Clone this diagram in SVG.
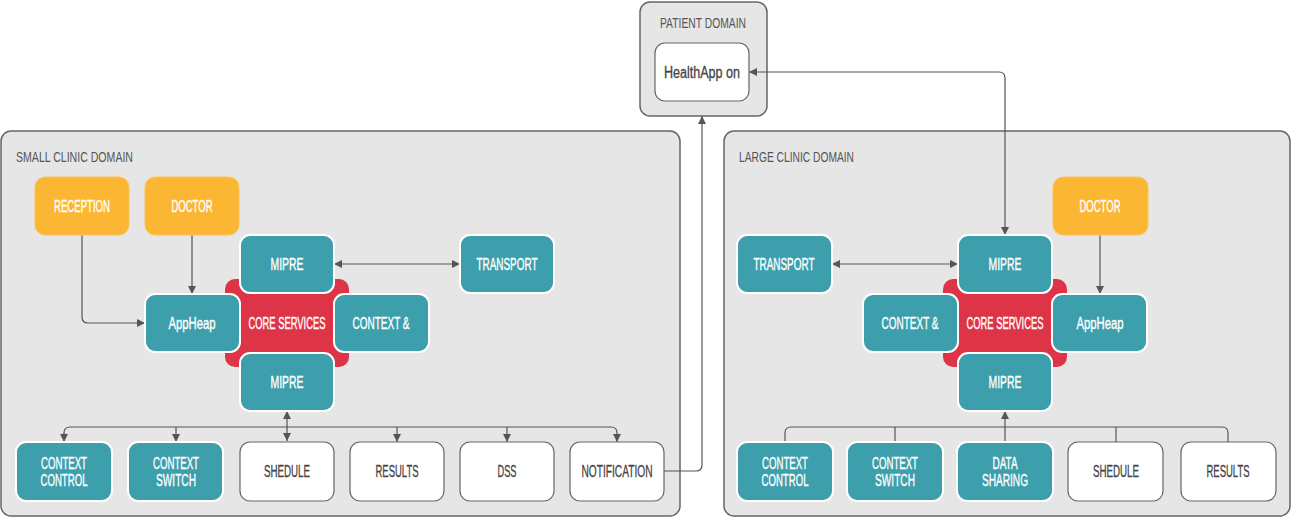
<svg xmlns="http://www.w3.org/2000/svg" width="1292" height="518" viewBox="0 0 1292 518">
<defs>
<marker id="ah" viewBox="0 0 10 10" refX="10" refY="5" markerWidth="8" markerHeight="8" markerUnits="userSpaceOnUse" orient="auto-start-reverse">
<path d="M0,0 L10,5 L0,10 z" fill="#555"/>
</marker>
<style>
.dom{fill:#e6e6e6;stroke:#666;stroke-width:1.5}
.title{font-family:"Liberation Sans",Arial,sans-serif;font-size:14.5px;fill:#555}
.teal{fill:#3e9fac;stroke:#fff;stroke-width:2}
.orange{fill:#fbb733;stroke:#fcc35a;stroke-width:1}
.white{fill:#fff;stroke:#666;stroke-width:1.2}
.red{fill:#de3448}
.lt{font-family:"Liberation Sans",Arial,sans-serif;font-size:16px;fill:#fff;stroke:#fff;stroke-width:0.35;text-anchor:middle;dominant-baseline:central}
.dt{font-family:"Liberation Sans",Arial,sans-serif;font-size:16px;fill:#444;stroke:#444;stroke-width:0.3;text-anchor:middle;dominant-baseline:central}
.c{fill:none;stroke:#555;stroke-width:1.2}
</style>
</defs>

<g id="patient-domain">
<rect class="dom" x="640" y="2" width="127" height="114" rx="10"/>
<text class="title" x="703" y="28" text-anchor="middle" textLength="86" lengthAdjust="spacingAndGlyphs">PATIENT DOMAIN</text>
</g>
<g id="healthapp">
<rect class="white" x="655" y="43" width="94" height="58" rx="10"/>
<text class="dt" x="702" y="72" textLength="76" lengthAdjust="spacingAndGlyphs">HealthApp on</text>
</g>

<g id="small-clinic-domain">
<rect class="dom" x="1" y="131" width="679" height="385" rx="10"/>
<text class="title" x="16" y="162" textLength="117" lengthAdjust="spacingAndGlyphs">SMALL CLINIC DOMAIN</text>
</g>
<g id="large-clinic-domain">
<rect class="dom" x="724" y="131" width="566" height="385" rx="10"/>
<text class="title" x="739" y="162" textLength="115" lengthAdjust="spacingAndGlyphs">LARGE CLINIC DOMAIN</text>
</g>

<g id="connectors">
<!-- small clinic -->
<path class="c" d="M82,235 V317 Q82,323 88,323 H145" marker-end="url(#ah)"/>
<path class="c" d="M192,235 V294" marker-end="url(#ah)"/>
<path class="c" d="M334,264 H460" marker-start="url(#ah)" marker-end="url(#ah)"/>
<path class="c" d="M287,411 V441" marker-start="url(#ah)" marker-end="url(#ah)"/>
<path class="c" d="M64,442 V433 Q64,427 70,427 H611 Q617,427 617,433 V442" marker-end="url(#ah)"/>
<path class="c" d="M64,433 V442" marker-end="url(#ah)"/>
<path class="c" d="M176,427 V442" marker-end="url(#ah)"/>
<path class="c" d="M397,427 V442" marker-end="url(#ah)"/>
<path class="c" d="M507,427 V442" marker-end="url(#ah)"/>
<path class="c" d="M664,471 H696 Q702,471 702,465 V116" marker-end="url(#ah)"/>
<!-- patient / large -->
<path class="c" d="M1005,235 V78 Q1005,72 999,72 H749" marker-start="url(#ah)" marker-end="url(#ah)"/>
<!-- large clinic -->
<path class="c" d="M832,264 H958" marker-start="url(#ah)" marker-end="url(#ah)"/>
<path class="c" d="M1100,235 V294" marker-end="url(#ah)"/>
<path class="c" d="M1005,442 V411" marker-end="url(#ah)"/>
<path class="c" d="M785,442 V433 Q785,427 791,427 H1222 Q1228,427 1228,433 V442"/>
<path class="c" d="M895,427 V442"/>
<path class="c" d="M1116,427 V442"/>
</g>

<!-- small clinic nodes -->
<g id="s-reception"><rect class="orange" x="35" y="177" width="94" height="58" rx="10"/><text class="lt" x="82" y="206" textLength="56" lengthAdjust="spacingAndGlyphs">RECEPTION</text></g>
<g id="s-doctor"><rect class="orange" x="145" y="177" width="94" height="58" rx="10"/><text class="lt" x="192" y="206" textLength="41" lengthAdjust="spacingAndGlyphs">DOCTOR</text></g>
<g id="s-core"><rect class="red" x="225" y="279" width="124" height="88" rx="10"/><text class="lt" x="287" y="323" textLength="77" lengthAdjust="spacingAndGlyphs">CORE SERVICES</text></g>
<g id="s-mipre-top"><rect class="teal" x="240" y="235" width="94" height="58" rx="10"/><text class="lt" x="287" y="264" textLength="33" lengthAdjust="spacingAndGlyphs">MIPRE</text></g>
<g id="s-appheap"><rect class="teal" x="145" y="294" width="95" height="58" rx="10"/><text class="lt" x="192" y="323" textLength="47" lengthAdjust="spacingAndGlyphs">AppHeap</text></g>
<g id="s-context"><rect class="teal" x="334" y="294" width="95" height="58" rx="10"/><text class="lt" x="381" y="323" textLength="57" lengthAdjust="spacingAndGlyphs">CONTEXT &amp;</text></g>
<g id="s-mipre-bottom"><rect class="teal" x="240" y="353" width="94" height="58" rx="10"/><text class="lt" x="287" y="382" textLength="33" lengthAdjust="spacingAndGlyphs">MIPRE</text></g>
<g id="s-transport"><rect class="teal" x="460" y="235" width="94" height="58" rx="10"/><text class="lt" x="507" y="264" textLength="61" lengthAdjust="spacingAndGlyphs">TRANSPORT</text></g>
<g id="s-context-control"><rect class="teal" x="16" y="442" width="96" height="59" rx="10"/><text class="lt" x="64" y="463" textLength="46" lengthAdjust="spacingAndGlyphs">CONTEXT</text><text class="lt" x="64" y="480" textLength="47" lengthAdjust="spacingAndGlyphs">CONTROL</text></g>
<g id="s-context-switch"><rect class="teal" x="128" y="442" width="95" height="59" rx="10"/><text class="lt" x="176" y="463" textLength="46" lengthAdjust="spacingAndGlyphs">CONTEXT</text><text class="lt" x="176" y="480" textLength="40" lengthAdjust="spacingAndGlyphs">SWITCH</text></g>
<g id="s-shedule"><rect class="white" x="240" y="442" width="94" height="59" rx="10"/><text class="dt" x="287" y="471" textLength="46" lengthAdjust="spacingAndGlyphs">SHEDULE</text></g>
<g id="s-results"><rect class="white" x="350" y="442" width="94" height="59" rx="10"/><text class="dt" x="397" y="471" textLength="43" lengthAdjust="spacingAndGlyphs">RESULTS</text></g>
<g id="s-dss"><rect class="white" x="460" y="442" width="94" height="59" rx="10"/><text class="dt" x="507" y="471" textLength="19" lengthAdjust="spacingAndGlyphs">DSS</text></g>
<g id="s-notification"><rect class="white" x="570" y="442" width="94" height="59" rx="10"/><text class="dt" x="617" y="471" textLength="71" lengthAdjust="spacingAndGlyphs">NOTIFICATION</text></g>

<!-- large clinic nodes -->
<g id="l-doctor"><rect class="orange" x="1053" y="177" width="95" height="58" rx="10"/><text class="lt" x="1100" y="206" textLength="41" lengthAdjust="spacingAndGlyphs">DOCTOR</text></g>
<g id="l-transport"><rect class="teal" x="737" y="235" width="95" height="58" rx="10"/><text class="lt" x="784" y="264" textLength="61" lengthAdjust="spacingAndGlyphs">TRANSPORT</text></g>
<g id="l-core"><rect class="red" x="943" y="279" width="124" height="88" rx="10"/><text class="lt" x="1005" y="323" textLength="77" lengthAdjust="spacingAndGlyphs">CORE SERVICES</text></g>
<g id="l-mipre-top"><rect class="teal" x="958" y="235" width="94" height="58" rx="10"/><text class="lt" x="1005" y="264" textLength="33" lengthAdjust="spacingAndGlyphs">MIPRE</text></g>
<g id="l-context"><rect class="teal" x="863" y="294" width="95" height="58" rx="10"/><text class="lt" x="910" y="323" textLength="57" lengthAdjust="spacingAndGlyphs">CONTEXT &amp;</text></g>
<g id="l-appheap"><rect class="teal" x="1052" y="294" width="95" height="58" rx="10"/><text class="lt" x="1100" y="323" textLength="47" lengthAdjust="spacingAndGlyphs">AppHeap</text></g>
<g id="l-mipre-bottom"><rect class="teal" x="958" y="353" width="94" height="58" rx="10"/><text class="lt" x="1005" y="382" textLength="33" lengthAdjust="spacingAndGlyphs">MIPRE</text></g>
<g id="l-context-control"><rect class="teal" x="737" y="442" width="96" height="59" rx="10"/><text class="lt" x="785" y="463" textLength="46" lengthAdjust="spacingAndGlyphs">CONTEXT</text><text class="lt" x="785" y="480" textLength="47" lengthAdjust="spacingAndGlyphs">CONTROL</text></g>
<g id="l-context-switch"><rect class="teal" x="847" y="442" width="96" height="59" rx="10"/><text class="lt" x="895" y="463" textLength="46" lengthAdjust="spacingAndGlyphs">CONTEXT</text><text class="lt" x="895" y="480" textLength="40" lengthAdjust="spacingAndGlyphs">SWITCH</text></g>
<g id="l-data-sharing"><rect class="teal" x="957" y="442" width="96" height="59" rx="10"/><text class="lt" x="1005" y="463" textLength="25" lengthAdjust="spacingAndGlyphs">DATA</text><text class="lt" x="1005" y="480" textLength="46" lengthAdjust="spacingAndGlyphs">SHARING</text></g>
<g id="l-shedule"><rect class="white" x="1068" y="442" width="95" height="59" rx="10"/><text class="dt" x="1116" y="471" textLength="46" lengthAdjust="spacingAndGlyphs">SHEDULE</text></g>
<g id="l-results"><rect class="white" x="1181" y="442" width="95" height="59" rx="10"/><text class="dt" x="1228" y="471" textLength="43" lengthAdjust="spacingAndGlyphs">RESULTS</text></g>
</svg>
